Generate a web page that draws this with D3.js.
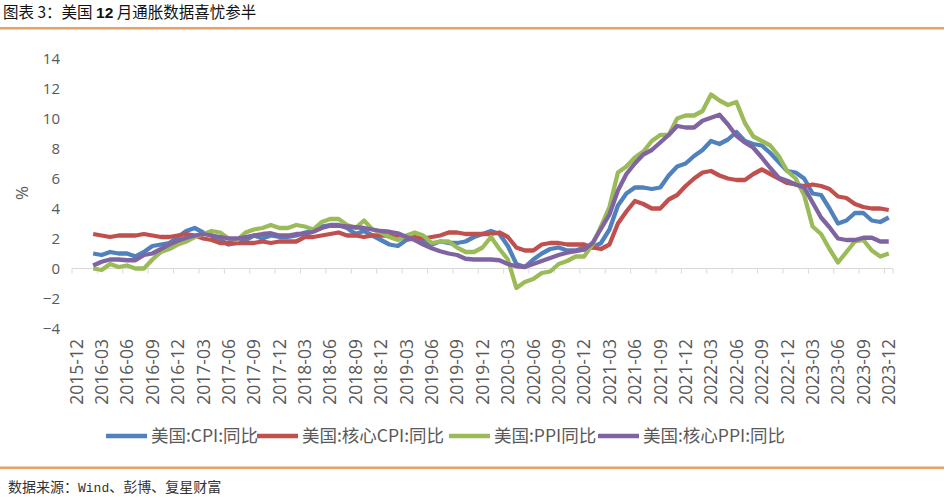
<!DOCTYPE html>
<html><head><meta charset="utf-8">
<script src="https://cdn.jsdelivr.net/npm/d3@7"></script>
<style>body{margin:0;background:#fff;} svg{display:block;}</style>
</head><body><svg id="c" width="944" height="500"></svg>
<script>
// ---------- data ----------
const categories = d3.timeMonth.range(new Date(2015, 11, 1), new Date(2024, 0, 1)).map(d3.timeFormat("%Y-%m"));
const tickLabels = ["2015-12","2016-03","2016-06","2016-09","2016-12","2017-03","2017-06","2017-09","2017-12",
  "2018-03","2018-06","2018-09","2018-12","2019-03","2019-06","2019-09","2019-12","2020-03","2020-06","2020-09",
  "2020-12","2021-03","2021-06","2021-09","2021-12","2022-03","2022-06","2022-09","2022-12","2023-03","2023-06",
  "2023-09","2023-12"];
const yTicks = [-4,-2,0,2,4,6,8,10,12,14];
const seriesNames = ["美国:CPI:同比","美国:核心CPI:同比","美国:PPI同比","美国:核心PPI:同比"];
const cpi = [null,null, 1.0,0.9,1.1,1.0,1.0,0.8,1.1,1.5,1.6,1.7,2.1,
  2.5,2.7,2.4,2.2,1.9,1.6,1.7,1.9,2.2,2.0,2.2,2.1,
  2.1,2.2,2.4,2.5,2.8,2.9,2.9,2.7,2.3,2.5,2.2,1.9,
  1.6,1.5,1.9,2.0,1.8,1.6,1.8,1.7,1.7,1.8,2.1,2.3,
  2.5,2.3,1.5,0.3,0.1,0.6,1.0,1.3,1.4,1.2,1.2,1.4,
  1.4,1.7,2.6,4.2,5.0,5.4,5.4,5.3,5.4,6.2,6.8,7.0,
  7.5,7.9,8.5,8.3,8.6,9.1,8.5,8.3,8.2,7.7,7.1,6.5,
  6.4,6.0,5.0,4.9,4.0,3.0,3.2,3.7,3.7,3.2,3.1,3.4];
const coreCpi = [null,null, 2.3,2.2,2.1,2.2,2.2,2.2,2.3,2.2,2.1,2.1,2.2,
  2.3,2.2,2.0,1.9,1.7,1.7,1.7,1.7,1.7,1.8,1.7,1.8,
  1.8,1.8,2.1,2.1,2.2,2.3,2.4,2.2,2.2,2.1,2.2,2.2,
  2.2,2.1,2.0,2.1,2.0,2.1,2.2,2.4,2.4,2.3,2.3,2.3,
  2.3,2.4,2.1,1.4,1.2,1.2,1.6,1.7,1.7,1.6,1.6,1.6,
  1.4,1.3,1.6,3.0,3.8,4.5,4.3,4.0,4.0,4.6,4.9,5.5,
  6.0,6.4,6.5,6.2,6.0,5.9,5.9,6.3,6.6,6.3,6.0,5.7,
  5.6,5.5,5.6,5.5,5.3,4.8,4.7,4.3,4.1,4.0,4.0,3.9];
const ppi = [null,null, 0.0,-0.1,0.3,0.1,0.2,0.0,0.0,0.6,1.1,1.3,1.6,
  1.8,2.1,2.3,2.5,2.4,2.0,1.9,2.4,2.6,2.7,2.9,2.7,
  2.7,2.9,2.8,2.6,3.1,3.3,3.3,2.9,2.7,3.2,2.6,2.4,
  2.1,1.9,2.2,2.4,2.2,1.7,1.8,1.8,1.4,1.1,1.1,1.4,
  2.1,1.3,0.6,-1.3,-0.9,-0.7,-0.3,-0.2,0.3,0.5,0.8,0.8,
  1.6,2.8,4.1,6.4,6.8,7.4,7.8,8.5,8.9,8.9,10.0,10.2,
  10.2,10.5,11.6,11.2,10.9,11.1,9.7,8.8,8.5,8.2,7.5,6.5,
  6.0,4.9,2.8,2.3,1.3,0.4,1.1,1.8,1.9,1.2,0.8,1.0];
const corePpi = [null,null, 0.2,0.45,0.6,0.6,0.55,0.55,0.9,1.0,1.3,1.6,1.85,
  2.05,2.2,2.3,2.2,2.1,2.0,2.0,2.1,2.2,2.3,2.35,2.2,
  2.2,2.3,2.3,2.45,2.7,2.85,2.85,2.8,2.75,2.7,2.6,2.5,
  2.45,2.35,2.1,1.9,1.6,1.35,1.15,1.0,0.9,0.65,0.6,0.6,
  0.6,0.55,0.3,0.15,0.1,0.3,0.5,0.7,0.9,1.05,1.15,1.25,
  1.7,2.65,3.6,5.2,6.3,7.0,7.6,7.9,8.4,8.9,9.5,9.4,
  9.4,9.85,10.05,10.25,9.6,8.85,8.4,8.05,7.4,6.7,6.05,5.85,
  5.6,5.4,4.4,3.4,2.75,2.0,1.9,1.9,2.05,2.05,1.8,1.8];
const colors = ["#4F81BD","#C0504D","#9BBB59","#8064A2"];

// ---------- drawing ----------
const svg = d3.select("#c");
const CJK = "'Noto Sans CJK SC','Noto Sans',sans-serif";
const LAT = "'Open Sans','Noto Sans',sans-serif";

svg.append("rect").attr("width",944).attr("height",500).attr("fill","#fff");

// title
const tt = svg.append("text").attr("x",3).attr("y",18).attr("font-family",CJK).attr("font-size",15.5)
  .attr("fill","#111").attr("font-weight",400);
tt.append("tspan").text("图表 3：美国 ");
tt.append("tspan").attr("font-weight",700).attr("font-family","'Liberation Sans',sans-serif").text("12");
tt.append("tspan").text(" 月通胀数据喜忧参半");
svg.append("rect").attr("x",0).attr("y",27).attr("width",944).attr("height",2.5).attr("fill","#EAA062");
svg.append("rect").attr("x",0).attr("y",466.5).attr("width",944).attr("height",2.5).attr("fill","#EAA062");

// footer
const ft = svg.append("text").attr("x",8).attr("y",492).attr("font-family",CJK).attr("font-size",14).attr("fill","#333");
ft.append("tspan").text("数据来源：");
ft.append("tspan").attr("font-family","'Liberation Mono',monospace").attr("font-size",13).text("Wind");
ft.append("tspan").text("、彭博、复星财富");

const x = d3.scaleBand().domain(categories).range([72, 893]).padding(0);
const y = d3.scaleLinear().domain([-4, 14]).range([328.5, 58.5]);
const bw = x.bandwidth();

// y axis labels
const ya = svg.append("g").attr("transform","translate(72,0)")
  .call(d3.axisLeft(y).tickValues(yTicks).tickSize(0).tickPadding(12));
ya.select(".domain").remove();
ya.selectAll("text").attr("font-family",LAT).attr("font-size",15).attr("fill","#595959");

svg.append("text").attr("transform","translate(28,193) rotate(-90)").attr("text-anchor","middle")
  .attr("font-family",LAT).attr("font-size",17).attr("fill","#595959").text("%");

// x axis at zero
const y0 = y(0);
const xa = svg.append("g").attr("transform",`translate(0,${y0})`)
  .call(d3.axisBottom(x).tickValues(tickLabels).tickSize(0));
xa.select(".domain").attr("stroke","#D9D9D9").attr("d","M72,0H893");
xa.selectAll("text").attr("font-family",LAT).attr("font-size",17.5).attr("fill","#595959")
  .attr("transform","rotate(-90)").attr("text-anchor","end").attr("x",-(339 - y0)).attr("y",0).attr("dy","0.36em");
svg.append("g").selectAll("line").data(tickLabels.concat([null])).join("line")
  .attr("x1",d => d ? x(d) : 893).attr("x2",d => d ? x(d) : 893)
  .attr("y1",y0).attr("y2",y0 + 5).attr("stroke","#D9D9D9");

// lines
const allSeries = [cpi, coreCpi, ppi, corePpi];
const line = d3.line().defined(d => d.v !== null).x(d => x(d.m) + bw / 2).y(d => y(d.v));
allSeries.forEach((s, i) => {
  svg.append("path").datum(categories.map((m, k) => ({m, v: s[k]})))
    .attr("d", line).attr("fill","none").attr("stroke",colors[i]).attr("stroke-width",4.3)
    .attr("stroke-linejoin","round");
});

// legend
const legX = [106, 257, 449, 598];
const lg = svg.append("g");
seriesNames.forEach((n, i) => {
  lg.append("line").attr("x1",legX[i]).attr("x2",legX[i] + 41).attr("y1",436).attr("y2",436)
    .attr("stroke",colors[i]).attr("stroke-width",4.3);
  lg.append("text").attr("x",legX[i] + 45).attr("y",436).attr("dy","0.35em")
    .attr("font-family",CJK).attr("font-size",17.5).attr("fill","#595959").text(n);
});
</script></body></html>
